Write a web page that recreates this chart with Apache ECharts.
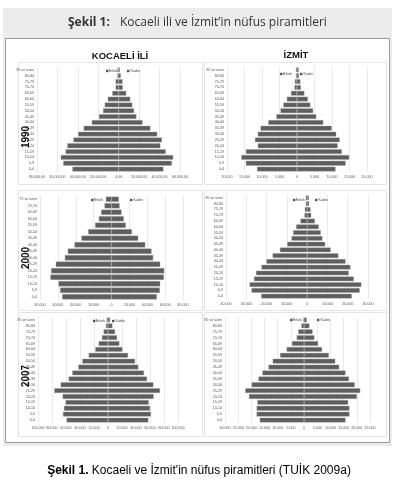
<!DOCTYPE html>
<html>
<head>
<meta charset="utf-8">
<script src="https://cdn.jsdelivr.net/npm/echarts@6/dist/echarts.min.js"></script>
<style>
  html, body { margin: 0; padding: 0; background: #fff; }
  #main { width: 397px; height: 487px; }
</style>
</head>
<body>
<div id="main"></div>
<script>
// yaş grupları (aşağıdan yukarı)
var yas18 = ['0-4', '5-9', '10-14', '15-19', '20-24', '25-29', '30-34', '35-39', '40-44', '45-49',
  '50-54', '55-59', '60-64', '65-69', '70-74', '75-79', '80-84', '85 ve üzeri'];
var yas16 = ['0-4', '5-9', '10-14', '15-19', '20-24', '25-29', '30-34', '35-39', '40-44', '45-49',
  '50-54', '55-59', '60-64', '65-69', '70-74', '75 ve üzeri'];

var kocaeli1990Erkek = [45300, 54300, 56700, 52000, 50300, 44300, 39700, 34300, 26300, 19300, 15300, 13700, 10700, 6300, 3000, 3000, 1300, 1000];
var kocaeli1990Kadin = [43700, 52000, 53300, 46000, 40700, 42300, 37700, 31000, 23300, 17300, 15000, 13300, 11300, 7300, 4000, 3700, 2000, 1000];

var izmit1990Erkek = [11400, 14600, 15900, 14600, 11200, 12000, 11200, 10400, 8200, 5900, 4700, 3900, 2900, 1700, 700, 600, 300, 300];
var izmit1990Kadin = [11000, 13900, 14900, 12800, 11600, 12200, 11200, 9900, 7500, 5500, 4600, 3800, 3100, 2100, 1100, 950, 570, 480];

var kocaeli2000Erkek = [55200, 57500, 59300, 68300, 67500, 62300, 52200, 48900, 41400, 33600, 26100, 18300, 14200, 11600, 7800, 6300];
var kocaeli2000Kadin = [50700, 54100, 54500, 58600, 59000, 54500, 46600, 44800, 37700, 29900, 22800, 16000, 13800, 11200, 9000, 8200];

var izmit2000Erkek = [22600, 27400, 28400, 26200, 25200, 22500, 20000, 17000, 13400, 9800, 7700, 6900, 5400, 3300, 1300, 1150, 660, 660];
var izmit2000Kadin = [22000, 25900, 26700, 23000, 20500, 21300, 18900, 15400, 11600, 8900, 7500, 6700, 5700, 3800, 2000, 1600, 980, 820];

var kocaeli2007Erkek = [59000, 64300, 62900, 60500, 64800, 76700, 67600, 56200, 51000, 42400, 36700, 27600, 18100, 13300, 8600, 6200, 2900, 1900];
var kocaeli2007Kadin = [57600, 61400, 60000, 58100, 65200, 74300, 64800, 55700, 51400, 43300, 38600, 28600, 20500, 16200, 12900, 10000, 6200, 2900];

var izmit2007Erkek = [16800, 18000, 18000, 17700, 20900, 22300, 19900, 17300, 15800, 13500, 11900, 9100, 6600, 4600, 2800, 2200, 1000, 250];
var izmit2007Kadin = [15700, 17200, 17200, 16700, 20000, 21300, 19200, 17000, 15700, 13300, 11800, 9400, 6800, 5300, 3900, 3200, 2000, 1000];

var yillar = ['1990', '2000', '2007'];
var basliklar = ['KOCAELİ İLİ', 'İZMİT'];

// panel yerleşimi
var paneller = [
  { yas: yas18, erkek: kocaeli1990Erkek, kadin: kocaeli1990Kadin, left: 37, width: 143, top: 67, height: 105, min: -80000, max: 60000, step: 20000, ondalik: true,
    lej: [118, 127, 71] },
  { yas: yas18, erkek: izmit1990Erkek, kadin: izmit1990Kadin, left: 227, width: 140, top: 67, height: 105, min: -20000, max: 20000, step: 5000,
    lej: [292, 300, 74] },
  { yas: yas16, erkek: kocaeli2000Erkek, kadin: kocaeli2000Kadin, left: 40, width: 143, top: 196, height: 104, min: -80000, max: 80000, step: 20000,
    lej: [103, 130, 200] },
  { yas: yas18, erkek: izmit2000Erkek, kadin: izmit2000Kadin, left: 226, width: 142, top: 195, height: 104, min: -40000, max: 30000, step: 10000,
    lej: [305, 315, 200] },
  { yas: yas18, erkek: kocaeli2007Erkek, kadin: kocaeli2007Kadin, left: 38, width: 140, top: 317, height: 106, min: -100000, max: 100000, step: 20000,
    lej: [105, 112, 321] },
  { yas: yas18, erkek: izmit2007Erkek, kadin: izmit2007Kadin, left: 225, width: 145, top: 317, height: 106, min: -30000, max: 25000, step: 5000,
    lej: [302, 317, 320] }
];

function binlik(v, ondalik) {
  var s = String(Math.abs(v)).replace(/\B(?=(\d{3})+(?!\d))/g, '.');
  return ondalik ? s + ',00' : s;
}

var grid = [], xAxis = [], yAxis = [], series = [], graphic = [];

// arka plan ve çerçeve
graphic.push({ type: 'rect', z: 0, shape: { x: 3, y: 8, width: 389, height: 438 }, style: { fill: '#ececec' } });
graphic.push({ type: 'rect', z: 0, shape: { x: 5.5, y: 38.5, width: 384, height: 404 }, style: { fill: '#fff', stroke: '#9a9a9a', lineWidth: 1 } });
graphic.push({ type: 'text', z: 10, x: 68, y: 23, style: { text: 'Şekil 1:', font: 'bold 12px "Open Sans"', fill: '#333', verticalAlign: 'middle' } });
graphic.push({ type: 'text', z: 10, x: 120, y: 23, style: { text: 'Kocaeli ili ve İzmit’in nüfus piramitleri', font: '12px "Open Sans"', fill: '#333', verticalAlign: 'middle' } });

// sütun başlıkları
graphic.push({ type: 'text', z: 10, x: 120, y: 56, style: { text: basliklar[0], font: 'bold 9.5px "Liberation Sans"', fill: '#111', align: 'center', verticalAlign: 'middle' } });
graphic.push({ type: 'text', z: 10, x: 296, y: 55, style: { text: basliklar[1], font: 'bold 9.5px "Liberation Sans"', fill: '#111', align: 'center', verticalAlign: 'middle' } });

// yıl etiketleri
var yilY = [137, 258, 376];
for (var j = 0; j < yillar.length; j++) {
  graphic.push({ type: 'text', z: 10, x: 26, y: yilY[j], rotation: Math.PI / 2,
    style: { text: yillar[j], font: 'bold 10px "Liberation Sans"', fill: '#111', align: 'center', verticalAlign: 'middle' } });
}

var cerceveY = [[62, 122], [190, 120], [312, 124]];

for (var i = 0; i < paneller.length; i++) {
  var p = paneller[i];
  var sol = i % 2 === 0;
  var cy = cerceveY[Math.floor(i / 2)];
  graphic.push({ type: 'rect', z: 0, shape: { x: sol ? 18.5 : 204.5, y: cy[0] + 0.5, width: sol ? 184 : 182, height: cy[1] },
    style: { fill: 'none', stroke: '#e4e4e4', lineWidth: 1 } });

  grid.push({ left: p.left, top: p.top, width: p.width, height: p.height, containLabel: false });
  (function (ondalik) {
    xAxis.push({
      type: 'value', gridIndex: i, min: p.min, max: p.max, interval: p.step,
      axisLine: { show: false }, axisTick: { show: false },
      splitLine: { show: true, lineStyle: { color: '#dcdcdc', width: 0.6 } },
      axisLabel: { fontSize: 3.6, color: '#555', margin: 3, showMinLabel: true, showMaxLabel: true,
        fontFamily: 'Liberation Sans', formatter: function (v) { return binlik(v, ondalik); } }
    });
  })(p.ondalik);
  yAxis.push({
    type: 'category', gridIndex: i, data: p.yas,
    axisLine: { show: false }, axisTick: { show: false }, splitLine: { show: false },
    axisLabel: { fontSize: 3.6, color: '#555', margin: 3, interval: 0, fontFamily: 'Liberation Sans' }
  });
  series.push({
    name: 'Erkek', type: 'bar', xAxisIndex: i, yAxisIndex: i, silent: true,
    barGap: '-100%', barCategoryGap: '20%',
    itemStyle: { color: '#5e5e5e', borderColor: '#a0a0a0', borderWidth: 0.4 },
    data: p.erkek.map(function (v) { return -v; })
  });
  series.push({
    name: 'Kadın', type: 'bar', xAxisIndex: i, yAxisIndex: i, silent: true,
    barGap: '-100%', barCategoryGap: '20%',
    itemStyle: { color: '#5e5e5e', borderColor: '#a0a0a0', borderWidth: 0.4 },
    data: p.kadin
  });

  // küçük lejant
  graphic.push({ type: 'rect', z: 10, shape: { x: p.lej[0] - 12, y: p.lej[2] - 1.2, width: 2.4, height: 2.4 }, style: { fill: '#555' } });
  graphic.push({ type: 'text', z: 10, x: p.lej[0], y: p.lej[2], style: { text: 'Erkek', font: '3.6px "Liberation Sans"', fill: '#444', align: 'right', verticalAlign: 'middle' } });
  graphic.push({ type: 'rect', z: 10, shape: { x: p.lej[1], y: p.lej[2] - 1.2, width: 2.4, height: 2.4 }, style: { fill: '#555' } });
  graphic.push({ type: 'text', z: 10, x: p.lej[1] + 3.5, y: p.lej[2], style: { text: 'Kadın', font: '3.6px "Liberation Sans"', fill: '#444', align: 'left', verticalAlign: 'middle' } });
}

// alt yazı
graphic.push({ type: 'text', z: 10, x: 199, y: 471, style: {
  text: '{b|Şekil 1.}{n| Kocaeli ve İzmit\'in nüfus piramitleri (TUİK 2009a)}',
  fill: '#000', align: 'center', verticalAlign: 'middle',
  rich: {
    b: { fontWeight: 'bold', fontSize: 12, fontFamily: 'Liberation Sans', color: '#000' },
    n: { fontSize: 12, fontFamily: 'Liberation Sans', color: '#000' }
  }
} });

var myChart = echarts.init(document.getElementById('main'));
myChart.setOption({
  animation: false,
  grid: grid,
  xAxis: xAxis,
  yAxis: yAxis,
  series: series,
  graphic: graphic
});
</script>
</body>
</html>
